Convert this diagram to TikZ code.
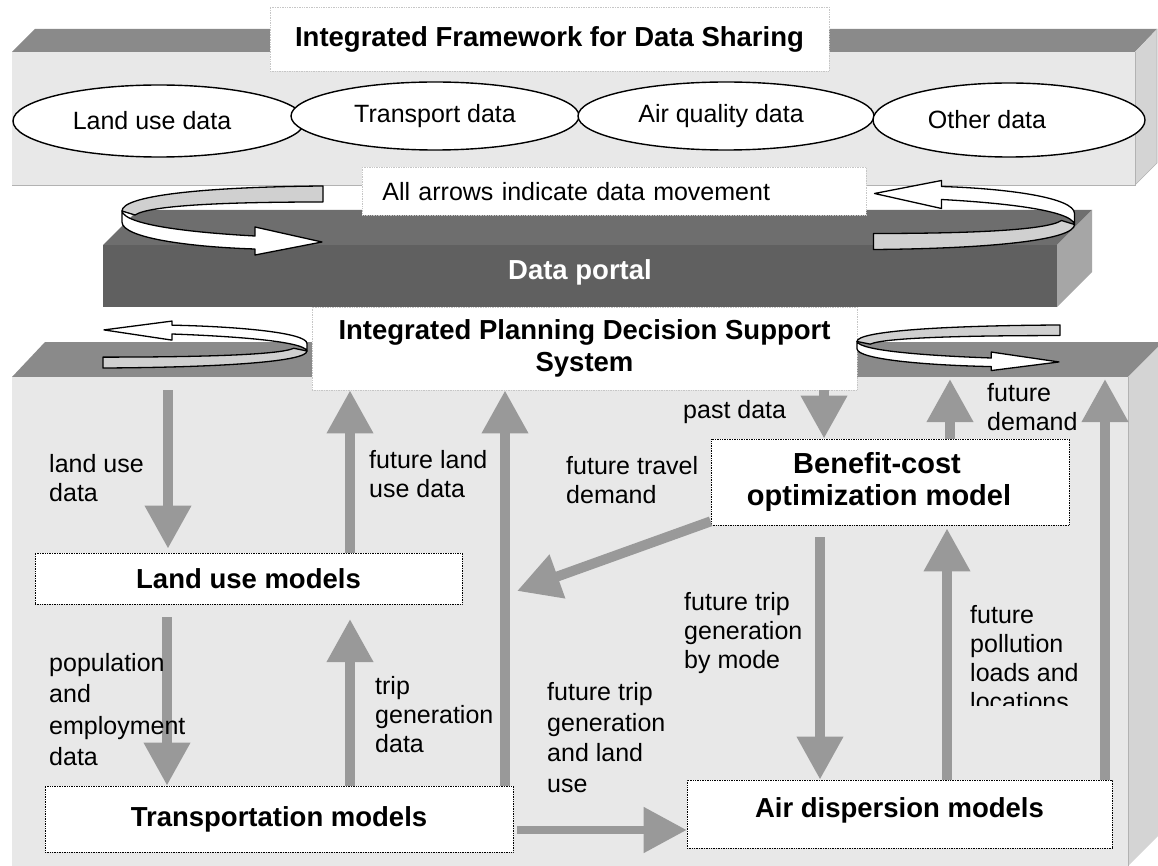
\documentclass[tikz,border=0pt]{standalone}
\usepackage{fontspec}
\setmainfont{Liberation Sans}
\usetikzlibrary{arrows.meta,shapes.geometric}
\definecolor{frontc}{HTML}{E8E8E8}
\definecolor{topc}{HTML}{8A8A8A}
\definecolor{sidec}{HTML}{D4D4D4}
\definecolor{ptop}{HTML}{6E6E6E}
\definecolor{pfront}{HTML}{606060}
\definecolor{pside}{HTML}{A6A6A6}
\definecolor{arrc}{HTML}{999999}
\definecolor{ribc}{HTML}{D0D0D0}
\newcommand\lblfont{\fontsize{25}{29}\selectfont}
\newcommand\ttlfont{\fontsize{27.5}{31.5}\selectfont\bfseries}
\newcommand\bigttlfont{\fontsize{29}{31.5}\selectfont\bfseries}
\tikzset{
 edge/.style={draw=gray!60, line width=0.6pt},
 arr/.style={draw=arrc, line width=10pt, -{Triangle[width=44pt,length=43pt]}},
 modelbox/.style={draw=black, densely dotted, line width=0.7pt, fill=white, inner sep=0pt, font=\ttlfont, align=center},
 titlebox/.style={draw=gray!45, densely dotted, line width=0.7pt, fill=white, inner sep=0pt, align=center},
 dataell/.style={ellipse, draw=black, line width=1.4pt, fill=white, inner sep=0pt, font=\lblfont},
 lbl/.style={font=\lblfont, align=left, anchor=north west, inner sep=0pt},
 ribback/.style={fill=ribc, draw=black, line width=1.3pt, line join=round},
 ribfront/.style={fill=white, draw=black, line width=1.3pt, line join=round},
}
\newcommand\myribbon{%
 \path[ribback] (201,0) -- (201,16) .. controls (108,16) and (28,19) .. (13,29) -- (0,25) .. controls (0,10) and (78,1) .. (201,0) -- cycle;
 \path[ribfront] (0,25) .. controls (3,40) and (78,47) .. (133,50) -- (133,41) -- (200,56) -- (133,69) -- (133,63) .. controls (68,61) and (0,52) .. (0,36) -- cycle;}
\begin{document}
\begin{tikzpicture}[x=1pt,y=-1pt]
\useasboundingbox (0,0) rectangle (1158,866);
\clip (0,0) rectangle (1158,866);
\fill[white] (0,0) rectangle (1158,866);
% top 3D box
\fill[topc] (12,52) -- (35,29) -- (1157,29) -- (1135,52) -- cycle;
\fill[sidec] (1135,52) -- (1157,29) -- (1157,163) -- (1135,185) -- cycle;
\fill[frontc] (12,52) rectangle (1135,185);
\draw[edge] (12,185) -- (1135,185) -- (1135,52);
\draw[edge] (1135,185) -- (1157,163) -- (1157,29);
% data portal box
\fill[ptop] (103,245) -- (138,210) -- (1092,210) -- (1057,245) -- cycle;
\fill[pside] (1057,245) -- (1092,210) -- (1092,272) -- (1057,307) -- cycle;
\fill[pfront] (103,245) rectangle (1057,307);
\node[font=\ttlfont, text=white] (portal) at (580,272) {Data portal};
% bottom 3D box
\fill[topc] (12,377) -- (45,342) -- (1163,342) -- (1128,377) -- cycle;
\fill[sidec] (1128,377) -- (1163,342) -- (1163,831) -- (1128,866) -- cycle;
\fill[frontc] (12,377) rectangle (1128,870);
\draw[edge] (1128,377) -- (1128,870);
% title boxes
\node[titlebox, font=\ttlfont, minimum width=559pt, minimum height=64pt] (frame) at (549.5,39) {Integrated Framework for Data Sharing};
\node[titlebox, font=\lblfont, anchor=north west, minimum height=48pt, text width=464pt, inner xsep=20pt, align=left] (note) at (362,167) {All arrows indicate data movement};
\node[titlebox, font=\ttlfont, minimum width=545pt, minimum height=83pt] (ipdss) at (584.5,348.5) {Integrated Planning Decision Support\\System};
% data ellipses
\node[dataell, minimum width=292pt, minimum height=72pt] (e1) at (159,121) {\hspace*{-14pt}Land use data};
\node[dataell, minimum width=288pt, minimum height=68pt] (e2) at (435,116) {Transport data};
\node[dataell, minimum width=296pt, minimum height=68pt] (e3) at (726,116) {\hspace*{-10pt}Air quality data};
\node[dataell, minimum width=272pt, minimum height=74pt] (e4) at (1009,120) {\hspace*{-44pt}Other data};
% ribbon arrows
\begin{scope}[shift={(122,186)}] \myribbon \end{scope}
\begin{scope}[shift={(1074.5,249.5)}, xscale=-1, yscale=-1] \myribbon \end{scope}
\begin{scope}[shift={(307,368)}, xscale=-1.015, yscale=-0.68] \myribbon \end{scope}
\begin{scope}[shift={(857,325)}, xscale=1.01, yscale=0.66] \myribbon \end{scope}
% model boxes
\node[modelbox, minimum width=427pt, minimum height=51pt] (lum) at (248.5,578.5) {Land use models};
\node[modelbox, minimum width=468pt, minimum height=66pt] (trm) at (279,819) {Transportation models};
\node[modelbox, font=\bigttlfont, minimum width=358pt, minimum height=86pt] (bco) at (890,482) {\hspace*{-26pt}Benefit-cost\\\hspace*{-22pt}optimization model};
\node[modelbox, minimum width=425pt, minimum height=68pt] (adm) at (899.5,814) {\raisebox{12pt}{Air dispersion models}};
% arrows
\coordinate (xa) at (168,390);
\coordinate (xb) at (350,0);
\coordinate (xc) at (505,0);
\coordinate (xd) at (824,0);
\coordinate (xe) at (950,379);
\coordinate (xf) at (1105,379);
\coordinate (ftdT) at (517,591);
\coordinate (xg) at (820,537);
\coordinate (xh) at (947,0);
\coordinate (xi) at (167,617);
\coordinate (tgtip) at (350,619);
\coordinate (ya) at (0,830);
\coordinate (tre) at ([xshift=4pt]trm.east);
\draw[arr, shorten >=4pt] (xa) -- (xa |- lum.north);
\draw[arr] (lum.north -| xb) -- (ipdss.south -| xb);
\draw[arr] (trm.north -| xc) -- (ipdss.south -| xc);
\draw[arr] (ipdss.south -| xd) -- (bco.north -| xd);
\draw[arr] (bco.north -| xe) -- (xe);
\draw[arr] (adm.north -| xf) -- (xf);
\draw[arr] ([yshift=4pt]bco.south west) -- (ftdT);
\draw[arr] (xg) -- (adm.north -| xg);
\draw[arr, shorten >=3pt] (adm.north -| xh) -- (bco.south -| xh);
\draw[arr] (xi) -- (trm.north -| xi);
\draw[arr] (trm.north -| xb) -- (tgtip);
\draw[arr, line width=8pt] (tre |- ya) -- (adm.west |- ya);
% labels
\node[lbl] (l1) at (49,454) {land use\\data};
\node[lbl] (l2) at (369,450) {future land\\use data};
\node[lbl] (l3) at (566,456) {future travel\\demand};
\node[lbl] (l4) at (683,400) {past data};
\node[lbl] (l5) at (987,383) {future\\demand};
\node[lbl] (l6) at (49,653) {population\\[2.5pt]and\\[2.5pt]employment\\[2.5pt]data};
\node[lbl] (l7) at (375,676) {trip\\generation\\data};
\node[lbl] (l8) at (547,682) {future trip\\[1.8pt]generation\\[1.8pt]and land\\[1.8pt]use};
\node[lbl] (l9) at (684,592) {future trip\\generation\\by mode};
\begin{scope}
\clip (960,590) rectangle (1110,705);
\node[lbl] (l10) at (970,605) {future\\pollution\\loads and\\locations};
\end{scope}
\end{tikzpicture}
\end{document}
